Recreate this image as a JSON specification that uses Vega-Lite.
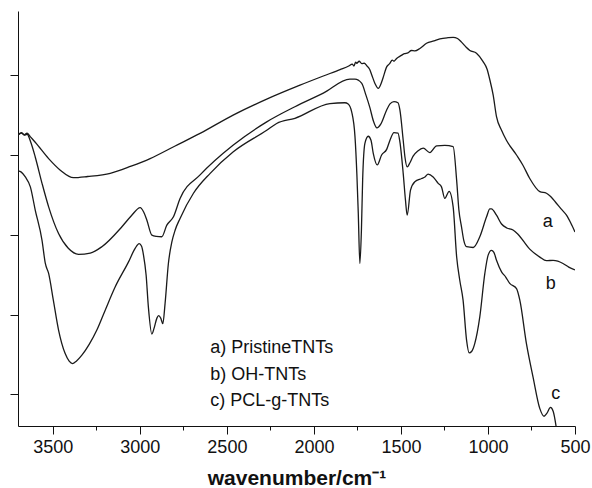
{
  "$schema": "https://vega.github.io/schema/vega-lite/v6.json",
  "width": 557,
  "height": 415,
  "autosize": {"type": "none"},
  "padding": {"left": 18, "top": 11, "right": 17, "bottom": 62},
  "background": "white",
  "config": {
    "view": {"stroke": null},
    "font": "Liberation Sans",
    "axis": {"domainColor": "#111", "tickColor": "#111", "labelColor": "#111", "titleColor": "#111", "grid": false, "labelFont": "Liberation Sans", "titleFont": "Liberation Sans"}
  },
  "datasets": {
    "spectra": [
      {"s":"a","x":3700,"y":85.0},{"s":"a","x":3680,"y":85.6},{"s":"a","x":3665,"y":85.0},{"s":"a","x":3648,"y":85.5},{"s":"a","x":3630,"y":84.6},{"s":"a","x":3601,"y":83.2},{"s":"a","x":3524,"y":79.1},{"s":"a","x":3457,"y":76.2},{"s":"a","x":3381,"y":74.3},{"s":"a","x":3300,"y":74.6},{"s":"a","x":3170,"y":75.4},{"s":"a","x":3050,"y":77.2},{"s":"a","x":2941,"y":79.1},{"s":"a","x":2800,"y":82.2},{"s":"a","x":2654,"y":85.4},{"s":"a","x":2464,"y":90.0},{"s":"a","x":2271,"y":94.0},{"s":"a","x":2080,"y":97.5},{"s":"a","x":1946,"y":99.8},{"s":"a","x":1850,"y":101.4},{"s":"a","x":1800,"y":102.3},{"s":"a","x":1780,"y":102.8},{"s":"a","x":1770,"y":102.3},{"s":"a","x":1760,"y":103.3},{"s":"a","x":1754,"y":103.0},{"s":"a","x":1740,"y":103.5},{"s":"a","x":1725,"y":102.9},{"s":"a","x":1710,"y":103.0},{"s":"a","x":1697,"y":102.4},{"s":"a","x":1680,"y":101.5},{"s":"a","x":1667,"y":100.0},{"s":"a","x":1650,"y":98.0},{"s":"a","x":1630,"y":96.7},{"s":"a","x":1615,"y":97.8},{"s":"a","x":1603,"y":99.3},{"s":"a","x":1582,"y":102.1},{"s":"a","x":1565,"y":102.9},{"s":"a","x":1550,"y":103.8},{"s":"a","x":1540,"y":103.5},{"s":"a","x":1525,"y":104.2},{"s":"a","x":1500,"y":104.9},{"s":"a","x":1480,"y":105.4},{"s":"a","x":1460,"y":105.6},{"s":"a","x":1440,"y":106.2},{"s":"a","x":1420,"y":106.1},{"s":"a","x":1391,"y":106.7},{"s":"a","x":1353,"y":108.0},{"s":"a","x":1310,"y":108.6},{"s":"a","x":1276,"y":109.1},{"s":"a","x":1230,"y":109.4},{"s":"a","x":1200,"y":109.5},{"s":"a","x":1175,"y":109.2},{"s":"a","x":1152,"y":108.3},{"s":"a","x":1125,"y":107.0},{"s":"a","x":1104,"y":106.2},{"s":"a","x":1066,"y":105.5},{"s":"a","x":1028,"y":103.4},{"s":"a","x":1005,"y":101.5},{"s":"a","x":989,"y":98.8},{"s":"a","x":970,"y":95.0},{"s":"a","x":951,"y":89.6},{"s":"a","x":922,"y":86.2},{"s":"a","x":894,"y":83.7},{"s":"a","x":836,"y":80.0},{"s":"a","x":800,"y":77.5},{"s":"a","x":760,"y":74.1},{"s":"a","x":702,"y":70.8},{"s":"a","x":664,"y":70.4},{"s":"a","x":640,"y":69.6},{"s":"a","x":607,"y":67.9},{"s":"a","x":580,"y":66.5},{"s":"a","x":549,"y":64.9},{"s":"a","x":525,"y":63.0},{"s":"a","x":500,"y":60.7},
      {"s":"b","x":3700,"y":85.0},{"s":"b","x":3680,"y":85.5},{"s":"b","x":3660,"y":85.0},{"s":"b","x":3648,"y":85.2},{"s":"b","x":3625,"y":83.0},{"s":"b","x":3601,"y":79.5},{"s":"b","x":3562,"y":72.9},{"s":"b","x":3524,"y":67.0},{"s":"b","x":3467,"y":60.3},{"s":"b","x":3411,"y":56.6},{"s":"b","x":3352,"y":55.1},{"s":"b","x":3285,"y":55.4},{"s":"b","x":3218,"y":57.0},{"s":"b","x":3103,"y":62.0},{"s":"b","x":3050,"y":64.7},{"s":"b","x":2998,"y":66.8},{"s":"b","x":2978,"y":65.7},{"s":"b","x":2960,"y":63.7},{"s":"b","x":2931,"y":59.9},{"s":"b","x":2906,"y":59.6},{"s":"b","x":2874,"y":59.5},{"s":"b","x":2845,"y":62.4},{"s":"b","x":2807,"y":64.5},{"s":"b","x":2769,"y":69.1},{"s":"b","x":2654,"y":75.0},{"s":"b","x":2463,"y":82.5},{"s":"b","x":2271,"y":88.3},{"s":"b","x":2109,"y":92.1},{"s":"b","x":1946,"y":95.5},{"s":"b","x":1793,"y":99.0},{"s":"b","x":1764,"y":99.0},{"s":"b","x":1726,"y":98.0},{"s":"b","x":1701,"y":95.0},{"s":"b","x":1678,"y":91.8},{"s":"b","x":1658,"y":88.5},{"s":"b","x":1638,"y":86.8},{"s":"b","x":1615,"y":87.8},{"s":"b","x":1582,"y":91.3},{"s":"b","x":1563,"y":92.8},{"s":"b","x":1540,"y":93.4},{"s":"b","x":1517,"y":93.1},{"s":"b","x":1506,"y":91.3},{"s":"b","x":1487,"y":83.7},{"s":"b","x":1477,"y":79.5},{"s":"b","x":1464,"y":77.0},{"s":"b","x":1449,"y":78.0},{"s":"b","x":1430,"y":79.7},{"s":"b","x":1403,"y":81.0},{"s":"b","x":1372,"y":81.7},{"s":"b","x":1334,"y":80.6},{"s":"b","x":1295,"y":82.3},{"s":"b","x":1248,"y":82.4},{"s":"b","x":1200,"y":82.1},{"s":"b","x":1180,"y":73.7},{"s":"b","x":1167,"y":66.2},{"s":"b","x":1152,"y":62.0},{"s":"b","x":1139,"y":58.6},{"s":"b","x":1123,"y":57.0},{"s":"b","x":1085,"y":56.8},{"s":"b","x":1047,"y":59.5},{"s":"b","x":1008,"y":64.5},{"s":"b","x":989,"y":66.5},{"s":"b","x":980,"y":66.5},{"s":"b","x":951,"y":64.9},{"s":"b","x":922,"y":62.7},{"s":"b","x":892,"y":61.7},{"s":"b","x":856,"y":61.2},{"s":"b","x":829,"y":60.2},{"s":"b","x":760,"y":56.4},{"s":"b","x":702,"y":54.4},{"s":"b","x":664,"y":53.5},{"s":"b","x":626,"y":53.6},{"s":"b","x":599,"y":53.4},{"s":"b","x":569,"y":52.8},{"s":"b","x":536,"y":51.9},{"s":"b","x":500,"y":51.2},
      {"s":"c","x":3700,"y":76.0},{"s":"c","x":3681,"y":75.7},{"s":"c","x":3658,"y":74.5},{"s":"c","x":3629,"y":72.0},{"s":"c","x":3601,"y":66.2},{"s":"c","x":3562,"y":58.6},{"s":"c","x":3543,"y":52.8},{"s":"c","x":3524,"y":50.3},{"s":"c","x":3497,"y":43.6},{"s":"c","x":3467,"y":36.1},{"s":"c","x":3429,"y":30.2},{"s":"c","x":3406,"y":28.3},{"s":"c","x":3387,"y":27.7},{"s":"c","x":3365,"y":28.3},{"s":"c","x":3333,"y":29.8},{"s":"c","x":3291,"y":32.5},{"s":"c","x":3247,"y":36.1},{"s":"c","x":3199,"y":41.1},{"s":"c","x":3142,"y":46.9},{"s":"c","x":3065,"y":53.2},{"s":"c","x":3027,"y":56.6},{"s":"c","x":3004,"y":57.8},{"s":"c","x":2990,"y":57.1},{"s":"c","x":2979,"y":54.9},{"s":"c","x":2964,"y":49.9},{"s":"c","x":2951,"y":41.9},{"s":"c","x":2931,"y":35.1},{"s":"c","x":2918,"y":36.6},{"s":"c","x":2902,"y":39.1},{"s":"c","x":2892,"y":39.7},{"s":"c","x":2880,"y":39.1},{"s":"c","x":2868,"y":37.7},{"s":"c","x":2855,"y":42.8},{"s":"c","x":2836,"y":52.8},{"s":"c","x":2816,"y":58.2},{"s":"c","x":2797,"y":61.2},{"s":"c","x":2769,"y":64.1},{"s":"c","x":2692,"y":70.4},{"s":"c","x":2596,"y":75.4},{"s":"c","x":2463,"y":80.8},{"s":"c","x":2271,"y":86.2},{"s":"c","x":2214,"y":87.9},{"s":"c","x":2109,"y":89.2},{"s":"c","x":1908,"y":92.9},{"s":"c","x":1822,"y":93.1},{"s":"c","x":1803,"y":92.8},{"s":"c","x":1783,"y":90.8},{"s":"c","x":1764,"y":84.6},{"s":"c","x":1753,"y":75.0},{"s":"c","x":1745,"y":65.3},{"s":"c","x":1736,"y":52.8},{"s":"c","x":1727,"y":61.2},{"s":"c","x":1720,"y":73.7},{"s":"c","x":1707,"y":82.9},{"s":"c","x":1688,"y":84.7},{"s":"c","x":1672,"y":83.7},{"s":"c","x":1659,"y":80.4},{"s":"c","x":1636,"y":77.5},{"s":"c","x":1611,"y":80.0},{"s":"c","x":1582,"y":81.4},{"s":"c","x":1563,"y":83.7},{"s":"c","x":1540,"y":85.6},{"s":"c","x":1517,"y":85.5},{"s":"c","x":1506,"y":83.3},{"s":"c","x":1487,"y":75.4},{"s":"c","x":1474,"y":68.7},{"s":"c","x":1464,"y":64.9},{"s":"c","x":1445,"y":71.2},{"s":"c","x":1420,"y":73.3},{"s":"c","x":1381,"y":74.1},{"s":"c","x":1362,"y":74.5},{"s":"c","x":1344,"y":75.2},{"s":"c","x":1315,"y":74.5},{"s":"c","x":1286,"y":72.9},{"s":"c","x":1267,"y":72.0},{"s":"c","x":1248,"y":69.1},{"s":"c","x":1223,"y":70.9},{"s":"c","x":1200,"y":67.0},{"s":"c","x":1180,"y":54.5},{"s":"c","x":1162,"y":48.6},{"s":"c","x":1143,"y":43.6},{"s":"c","x":1123,"y":33.6},{"s":"c","x":1108,"y":30.4},{"s":"c","x":1093,"y":30.8},{"s":"c","x":1076,"y":32.7},{"s":"c","x":1047,"y":39.4},{"s":"c","x":1018,"y":50.3},{"s":"c","x":999,"y":54.9},{"s":"c","x":980,"y":56.1},{"s":"c","x":966,"y":55.6},{"s":"c","x":951,"y":53.6},{"s":"c","x":922,"y":50.7},{"s":"c","x":898,"y":49.4},{"s":"c","x":875,"y":47.8},{"s":"c","x":836,"y":46.5},{"s":"c","x":817,"y":43.6},{"s":"c","x":779,"y":32.7},{"s":"c","x":741,"y":24.3},{"s":"c","x":702,"y":16.4},{"s":"c","x":678,"y":14.5},{"s":"c","x":662,"y":15.2},{"s":"c","x":641,"y":16.7},{"s":"c","x":625,"y":15.7},{"s":"c","x":607,"y":11.5}
    ],
    "legend": [
      {"x":2596,"y":30.3,"t":"a) PristineTNTs"},
      {"x":2596,"y":23.7,"t":"b) OH-TNTs"},
      {"x":2596,"y":17.1,"t":"c) PCL-g-TNTs"}
    ],
    "letters": [
      {"x":657,"y":62.0,"t":"a"},
      {"x":639,"y":46.3,"t":"b"},
      {"x":611,"y":18.9,"t":"c"}
    ]
  },
  "layer": [
    {
      "data": {"name": "spectra"},
      "mark": {"type": "line", "color": "#1a1a1a", "strokeWidth": 1.3, "clip": true, "interpolate": "monotone"},
      "encoding": {
        "x": {"field": "x", "type": "quantitative", "scale": {"domain": [500, 3700], "reverse": true, "nice": false, "zero": false},
              "axis": {"values": [3500, 3000, 2500, 2000, 1500, 1000, 500], "format": "d", "tickSize": 8, "labelFontSize": 18, "labelPadding": 4, "labelFlush": false, "labelOverlap": false, "title": "wavenumber/cm⁻¹", "titleFontSize": 21, "titleFontWeight": "bold", "titlePadding": 11, "orient": "bottom"}},
        "y": {"field": "y", "type": "quantitative", "scale": {"domain": [12.05, 116.1], "nice": false, "zero": false},
              "axis": {"values": [20, 40, 60, 80, 100], "tickSize": 8, "labels": false, "title": null}},
        "detail": {"field": "s"}
      }
    },
    {
      "data": {"name": "legend"},
      "mark": {"type": "text", "align": "left", "baseline": "alphabetic", "fontSize": 18, "color": "#111", "font": "Liberation Sans"},
      "encoding": {
        "x": {"field": "x", "type": "quantitative", "axis": {"values": [3250, 2750, 2250, 1750, 1250, 750], "tickSize": 4, "labels": false, "domain": false, "title": null, "orient": "bottom"}},
        "y": {"field": "y", "type": "quantitative"},
        "text": {"field": "t"}
      }
    },
    {
      "data": {"name": "letters"},
      "mark": {"type": "text", "align": "center", "baseline": "alphabetic", "fontSize": 18, "color": "#111", "font": "Liberation Sans"},
      "encoding": {
        "x": {"field": "x", "type": "quantitative", "axis": null},
        "y": {"field": "y", "type": "quantitative"},
        "text": {"field": "t"}
      }
    }
  ],
  "resolve": {"axis": {"x": "independent"}}
}
